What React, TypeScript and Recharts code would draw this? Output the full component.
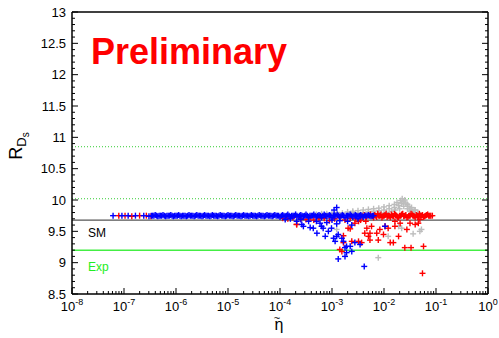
import { ScatterChart, Scatter, XAxis, YAxis, ReferenceLine } from 'recharts';

// points are [log10(eta), R_Ds]
const blueBand: [number, number][] = [
  [-7.21, 9.75], [-7.04, 9.75], [-6.92, 9.75], [-6.78, 9.75], [-6.62, 9.75], [-6.52, 9.74],
  [-6.45, 9.75], [-6.4, 9.76], [-6.35, 9.74], [-6.3, 9.75], [-6.25, 9.76], [-6.2, 9.74],
  [-6.15, 9.75], [-6.1, 9.76], [-6.05, 9.74], [-6.0, 9.75], [-5.95, 9.76], [-5.9, 9.74],
  [-5.85, 9.75], [-5.8, 9.74], [-5.75, 9.76], [-5.7, 9.75], [-5.65, 9.74], [-5.6, 9.76],
  [-5.55, 9.75], [-5.5, 9.74], [-5.45, 9.76], [-5.4, 9.75], [-5.35, 9.74], [-5.3, 9.76],
  [-5.25, 9.75], [-5.2, 9.74], [-5.15, 9.76], [-5.1, 9.75], [-5.05, 9.74], [-5.0, 9.76],
  [-4.95, 9.75], [-4.9, 9.74], [-4.85, 9.76], [-4.8, 9.75], [-4.75, 9.74], [-4.7, 9.76],
  [-4.65, 9.75], [-4.6, 9.74], [-4.55, 9.76], [-4.5, 9.75], [-4.45, 9.74], [-4.4, 9.76],
  [-4.35, 9.75], [-4.3, 9.74], [-4.25, 9.76], [-4.2, 9.75], [-4.15, 9.74], [-4.1, 9.76],
  [-4.05, 9.75], [-4.0, 9.73], [-3.95, 9.76], [-3.9, 9.74], [-3.85, 9.77], [-3.8, 9.73],
  [-3.75, 9.75], [-3.7, 9.77], [-3.65, 9.73], [-3.6, 9.76], [-3.55, 9.74], [-3.5, 9.77],
  [-3.45, 9.72], [-3.4, 9.75], [-3.35, 9.77], [-3.3, 9.73], [-3.25, 9.76], [-3.2, 9.72],
  [-3.15, 9.77], [-3.1, 9.74], [-3.05, 9.76], [-3.0, 9.72], [-2.95, 9.75], [-2.9, 9.77],
  [-2.85, 9.73], [-2.8, 9.76], [-2.75, 9.72], [-2.7, 9.75], [-2.65, 9.77], [-2.6, 9.73],
  [-2.55, 9.76], [-2.5, 9.74], [-2.45, 9.76], [-2.4, 9.73], [-2.35, 9.75], [-2.3, 9.76],
  [-2.25, 9.74], [-2.2, 9.75],
];

// second, offset set of band points (fills the gaps between the first set)
const blueBandFill: [number, number][] = [
  [-6.475, 9.75], [-6.425, 9.75], [-6.375, 9.75], [-6.325, 9.75], [-6.275, 9.75], [-6.225, 9.75],
  [-6.175, 9.75], [-6.125, 9.75], [-6.075, 9.75], [-6.025, 9.75], [-5.975, 9.75], [-5.925, 9.75],
  [-5.875, 9.75], [-5.825, 9.75], [-5.775, 9.75], [-5.725, 9.75], [-5.675, 9.75], [-5.625, 9.75],
  [-5.575, 9.75], [-5.525, 9.75], [-5.475, 9.75], [-5.425, 9.75], [-5.375, 9.75], [-5.325, 9.75],
  [-5.275, 9.75], [-5.225, 9.75], [-5.175, 9.75], [-5.125, 9.75], [-5.075, 9.75], [-5.025, 9.75],
  [-4.975, 9.75], [-4.925, 9.75], [-4.875, 9.75], [-4.825, 9.75], [-4.775, 9.75], [-4.725, 9.75],
  [-4.675, 9.75], [-4.625, 9.75], [-4.575, 9.75], [-4.525, 9.75], [-4.475, 9.75], [-4.425, 9.75],
  [-4.375, 9.75], [-4.325, 9.75], [-4.275, 9.75], [-4.225, 9.75], [-4.175, 9.75], [-4.125, 9.75],
  [-4.075, 9.75], [-4.025, 9.75], [-3.975, 9.75], [-3.925, 9.75], [-3.875, 9.75], [-3.825, 9.75],
  [-3.775, 9.75], [-3.725, 9.75], [-3.675, 9.75], [-3.625, 9.75], [-3.575, 9.75], [-3.525, 9.75],
  [-3.475, 9.75], [-3.425, 9.75], [-3.375, 9.75], [-3.325, 9.75], [-3.275, 9.75], [-3.225, 9.75],
  [-3.175, 9.75], [-3.125, 9.75], [-3.075, 9.75], [-3.025, 9.75], [-2.975, 9.75], [-2.925, 9.75],
  [-2.875, 9.75], [-2.825, 9.75], [-2.775, 9.75], [-2.725, 9.75], [-2.675, 9.75], [-2.625, 9.75],
  [-2.575, 9.75], [-2.525, 9.75], [-2.475, 9.75], [-2.425, 9.75], [-2.375, 9.75], [-2.325, 9.75],
  [-2.275, 9.75], [-2.225, 9.75],
];

const blueScatter: [number, number][] = [
  [-2.91, 9.88], [-2.96, 9.84], [-3.36, 9.55], [-3.23, 9.63], [-3.17, 9.55], [-3.07, 9.5],
  [-3.13, 9.42], [-2.97, 9.39], [-2.88, 9.45], [-2.81, 9.39], [-2.78, 9.34], [-2.75, 9.24],
  [-2.65, 9.26], [-2.72, 9.16], [-2.75, 9.1], [-2.88, 9.06], [-2.56, 9.32], [-2.62, 9.6],
  [-3.42, 9.56], [-3.55, 9.58], [-3.29, 9.47], [-2.91, 9.62], [-3.01, 9.55], [-3.2, 9.58],
  [-3.9, 9.69], [-3.68, 9.66], [-3.58, 9.61], [-2.38, 8.94], [-2.46, 9.29], [-2.62, 9.18],
  [-1.98, 9.58], [-3.45, 9.66], [-3.3, 9.66], [-3.1, 9.64], [-2.85, 9.67], [-3.8, 9.7],
  [-3.6, 9.69], [-3.0, 9.68], [-2.7, 9.66], [-2.5, 9.7], [-2.72, 9.26], [-2.94, 9.34],
  [-2.91, 9.42],
];

const redLeft: [number, number][] = [
  [-7.1, 9.75], [-6.98, 9.75], [-6.85, 9.74], [-6.7, 9.75], [-6.57, 9.75], [-6.48, 9.74],
];

const redFringe: [number, number][] = [
  [-3.95, 9.71], [-3.85, 9.7], [-3.75, 9.72], [-3.68, 9.61], [-3.6, 9.7], [-3.5, 9.69],
  [-3.42, 9.72], [-3.35, 9.68], [-3.25, 9.7], [-3.15, 9.71], [-3.05, 9.67], [-2.95, 9.7],
  [-2.85, 9.72], [-2.75, 9.68], [-2.65, 9.71], [-2.55, 9.7], [-2.45, 9.68], [-2.35, 9.66],
];

const redBand: [number, number][] = [
  [-2.42, 9.74], [-2.38, 9.76], [-2.34, 9.73], [-2.3, 9.75], [-2.26, 9.77], [-2.22, 9.74],
  [-2.18, 9.76], [-2.14, 9.73], [-2.1, 9.75], [-2.06, 9.77], [-2.02, 9.74], [-1.98, 9.76],
  [-1.94, 9.73], [-1.9, 9.75], [-1.86, 9.77], [-1.82, 9.74], [-1.78, 9.76], [-1.74, 9.73],
  [-1.7, 9.75], [-1.66, 9.77], [-1.62, 9.74], [-1.58, 9.76], [-1.54, 9.73], [-1.5, 9.75],
  [-1.46, 9.77], [-1.42, 9.74], [-1.38, 9.76], [-1.34, 9.73], [-1.3, 9.75], [-1.26, 9.76],
  [-1.22, 9.74], [-1.18, 9.76], [-1.14, 9.75], [-1.1, 9.75], [-1.07, 9.75],
  [-2.2, 9.72], [-2.12, 9.78], [-2.04, 9.72], [-1.96, 9.78], [-1.88, 9.72], [-1.8, 9.78],
  [-1.72, 9.72], [-1.64, 9.78], [-1.56, 9.72], [-1.48, 9.78], [-1.4, 9.72], [-1.32, 9.78],
  [-1.24, 9.73], [-1.16, 9.77],
  [-2.16, 9.75], [-2.08, 9.75], [-2.0, 9.75], [-1.92, 9.75], [-1.84, 9.75], [-1.76, 9.75],
  [-1.68, 9.75], [-1.6, 9.75], [-1.52, 9.75], [-1.44, 9.75], [-1.36, 9.75], [-1.28, 9.75],
  [-1.2, 9.75], [-1.12, 9.75],
];

const redScatter: [number, number][] = [
  [-3.68, 9.61], [-2.65, 9.54], [-2.81, 9.18], [-2.78, 9.32], [-2.62, 9.34], [-2.49, 9.34],
  [-2.43, 9.32], [-2.56, 9.63], [-2.33, 9.55], [-2.37, 9.47], [-2.27, 9.47], [-2.3, 9.42],
  [-2.24, 9.58], [-2.14, 9.47], [-2.08, 9.53], [-2.11, 9.36], [-2.01, 9.45], [-1.92, 9.55],
  [-1.88, 9.32], [-1.82, 9.32], [-1.79, 9.58], [-1.69, 9.63], [-1.79, 9.66], [-1.6, 9.24],
  [-1.48, 9.24], [-1.24, 9.26], [-1.26, 8.83], [-1.4, 9.61], [-1.5, 9.63], [-1.34, 9.63],
  [-1.56, 9.53], [-1.31, 9.69], [-2.27, 9.36], [-2.85, 9.21], [-2.78, 9.43], [-2.69, 9.55],
  [-2.49, 9.66], [-1.98, 9.58], [-1.72, 9.42],
];

const grayFan: [number, number][] = [
  [-3.3, 9.77], [-3.2, 9.78], [-3.1, 9.78], [-3.0, 9.79], [-2.9, 9.8], [-2.8, 9.79],
  [-2.7, 9.81], [-2.6, 9.8], [-2.6, 9.82], [-2.5, 9.83], [-2.5, 9.79], [-2.4, 9.84],
  [-2.4, 9.8], [-2.3, 9.85], [-2.3, 9.81], [-2.2, 9.86], [-2.2, 9.82], [-2.1, 9.87],
  [-2.1, 9.83], [-2.05, 9.79], [-2.0, 9.89], [-2.0, 9.84], [-1.95, 9.8], [-1.9, 9.91],
  [-1.9, 9.86], [-1.85, 9.82], [-1.8, 9.93], [-1.8, 9.88], [-1.78, 9.84], [-1.75, 9.96],
  [-1.72, 9.91], [-1.7, 9.86], [-1.68, 9.99], [-1.66, 9.94], [-1.65, 10.02], [-1.63, 9.97],
  [-1.62, 9.9], [-1.6, 10.0], [-1.58, 9.95], [-1.55, 9.93], [-1.55, 9.86], [-1.52, 9.9],
  [-1.5, 9.84], [-1.47, 9.88], [-1.45, 9.82], [-1.42, 9.84], [-1.4, 9.8], [-1.35, 9.8],
];

const grayScatter: [number, number][] = [
  [-2.11, 9.08], [-1.44, 9.46], [-1.28, 9.53], [-1.31, 9.5], [-1.92, 9.42], [-2.91, 9.53],
  [-1.72, 9.58], [-1.66, 9.55], [-1.4, 9.84], [-1.5, 9.82],
];

const smLine = 9.68;
const expLine = 9.2;
const expBounds = [10.02, 10.85];

const xMajor = [1e-8, 1e-7, 1e-6, 1e-5, 1e-4, 1e-3, 1e-2, 1e-1, 1];
const yMajor = [8.5, 9, 9.5, 10, 10.5, 11, 11.5, 12, 12.5, 13];

const xTicks: number[] = [];
xMajor.forEach((m, i) => {
  xTicks.push(m);
  if (i < xMajor.length - 1) for (let k = 2; k < 10; k++) xTicks.push(m * k);
});
const yTicks: number[] = [];
yMajor.forEach((m, i) => {
  yTicks.push(m);
  if (i < yMajor.length - 1) for (let k = 1; k < 5; k++) yTicks.push(Math.round((m + k * 0.1) * 10) / 10);
});

const toPts = (arr: [number, number][]) => arr.map(([e, v]) => ({ x: Math.pow(10, e), y: v }));

const isXMajor = (v: number) => Math.abs(Math.log10(v) - Math.round(Math.log10(v))) < 1e-9;
const isYMajor = (v: number) => Math.abs(v * 2 - Math.round(v * 2)) < 1e-6;

const plus = (color: string) => (props: any) => {
  const { cx, cy } = props;
  if (cx == null || cy == null) return <g />;
  return (
    <g stroke={color} strokeWidth={1.4}>
      <line x1={cx - 3} x2={cx + 3} y1={cy} y2={cy} />
      <line x1={cx} x2={cx} y1={cy - 3} y2={cy + 3} />
    </g>
  );
};

const XTickBottom = ({ x, y, payload }: any) => {
  const v = payload.value;
  const major = isXMajor(v);
  return (
    <g>
      <line x1={x} x2={x} y1={y} y2={y - (major ? 6 : 3)} stroke="#000" />
      {major && (
        <text x={x} y={y + 17} textAnchor="middle" fontSize={13} fill="#000">
          10<tspan dy={-6} fontSize={9}>{Math.round(Math.log10(v))}</tspan>
        </text>
      )}
    </g>
  );
};

const XTickTop = ({ x, y, payload }: any) => (
  <line x1={x} x2={x} y1={y} y2={y + (isXMajor(payload.value) ? 6 : 3)} stroke="#000" />
);

const YTickLeft = ({ x, y, payload }: any) => {
  const v = payload.value;
  const major = isYMajor(v);
  return (
    <g>
      <line x1={x} x2={x + (major ? 6 : 3)} y1={y} y2={y} stroke="#000" />
      {major && (
        <text x={x - 6} y={y + 4.5} textAnchor="end" fontSize={13} fill="#000">
          {v}
        </text>
      )}
    </g>
  );
};

const YTickRight = ({ x, y, payload }: any) => (
  <line x1={x} x2={x - (isYMajor(payload.value) ? 6 : 3)} y1={y} y2={y} stroke="#000" />
);

export default function App() {
  const axisLine = { stroke: '#000', strokeWidth: 1.5 };
  return (
    <div
      style={{
        position: 'absolute',
        left: 0,
        top: 0,
        width: 499,
        height: 338,
        background: '#fff',
        fontFamily: '"Liberation Sans", Arial, sans-serif',
      }}
    >
      <ScatterChart width={499} height={338} margin={{ top: 11, right: 10, bottom: 14, left: 0 }}>
        <XAxis
          xAxisId="b"
          type="number"
          dataKey="x"
          scale="log"
          domain={[1e-8, 1]}
          allowDataOverflow
          ticks={xTicks}
          interval={0}
          tick={<XTickBottom />}
          tickLine={false}
          tickSize={0}
          tickMargin={0}
          height={30}
          axisLine={axisLine}
        />
        <XAxis
          xAxisId="t"
          orientation="top"
          type="number"
          scale="log"
          domain={[1e-8, 1]}
          allowDataOverflow
          ticks={xTicks}
          interval={0}
          tick={<XTickTop />}
          tickLine={false}
          tickSize={0}
          tickMargin={0}
          height={1}
          axisLine={axisLine}
        />
        <YAxis
          yAxisId="l"
          type="number"
          dataKey="y"
          domain={[8.5, 13]}
          allowDataOverflow
          ticks={yTicks}
          interval={0}
          tick={<YTickLeft />}
          tickLine={false}
          tickSize={0}
          tickMargin={0}
          width={72}
          axisLine={axisLine}
        />
        <YAxis
          yAxisId="r"
          orientation="right"
          type="number"
          domain={[8.5, 13]}
          allowDataOverflow
          ticks={yTicks}
          interval={0}
          tick={<YTickRight />}
          tickLine={false}
          tickSize={0}
          tickMargin={0}
          width={1}
          axisLine={axisLine}
        />
        {expBounds.map((v) => (
          <ReferenceLine key={v} xAxisId="b" yAxisId="l" y={v} stroke="#33cc33" strokeDasharray="1 2" />
        ))}
        <ReferenceLine xAxisId="b" yAxisId="l" y={expLine} stroke="#44ee44" strokeWidth={1.5} />
        <ReferenceLine xAxisId="b" yAxisId="l" y={smLine} stroke="#555" strokeWidth={1.3} />
        <Scatter xAxisId="b" yAxisId="l" data={toPts(grayFan)} shape={plus('#bdbdbd')} isAnimationActive={false} />
        <Scatter xAxisId="b" yAxisId="l" data={toPts(grayScatter)} shape={plus('#bdbdbd')} isAnimationActive={false} />
        <Scatter xAxisId="b" yAxisId="l" data={toPts(redLeft)} shape={plus('#ff0000')} isAnimationActive={false} />
        <Scatter xAxisId="b" yAxisId="l" data={toPts(redFringe)} shape={plus('#ff0000')} isAnimationActive={false} />
        <Scatter xAxisId="b" yAxisId="l" data={toPts(redBand)} shape={plus('#ff0000')} isAnimationActive={false} />
        <Scatter xAxisId="b" yAxisId="l" data={toPts(redScatter)} shape={plus('#ff0000')} isAnimationActive={false} />
        <Scatter xAxisId="b" yAxisId="l" data={toPts(blueBand)} shape={plus('#0000ff')} isAnimationActive={false} />
        <Scatter xAxisId="b" yAxisId="l" data={toPts(blueBandFill)} shape={plus('#0000ff')} isAnimationActive={false} />
        <Scatter xAxisId="b" yAxisId="l" data={toPts(blueScatter)} shape={plus('#0000ff')} isAnimationActive={false} />
      </ScatterChart>
      <svg
        width={499}
        height={338}
        style={{ position: 'absolute', left: 0, top: 0, pointerEvents: 'none' }}
      >
        <text x={91} y={64} fontSize={36} fontWeight="bold" fill="#ff0000">
          Preliminary
        </text>
        <text x={88} y={237} fontSize={12} fill="#000">
          SM
        </text>
        <text x={88} y={271} fontSize={12} fill="#22ee22">
          Exp
        </text>
        <text transform="rotate(-90, 22, 146)" x={22} y={146} textAnchor="middle" fontSize={18} fill="#000">
          R<tspan dy={4} fontSize={13}>D</tspan>
          <tspan dy={3} fontSize={10}>s</tspan>
        </text>
        <text textAnchor="middle" fill="#000">
          <tspan x={277} y={322} fontSize={11}>~</tspan>
          <tspan x={279} y={330} fontSize={16}>η</tspan>
        </text>
      </svg>
    </div>
  );
}
